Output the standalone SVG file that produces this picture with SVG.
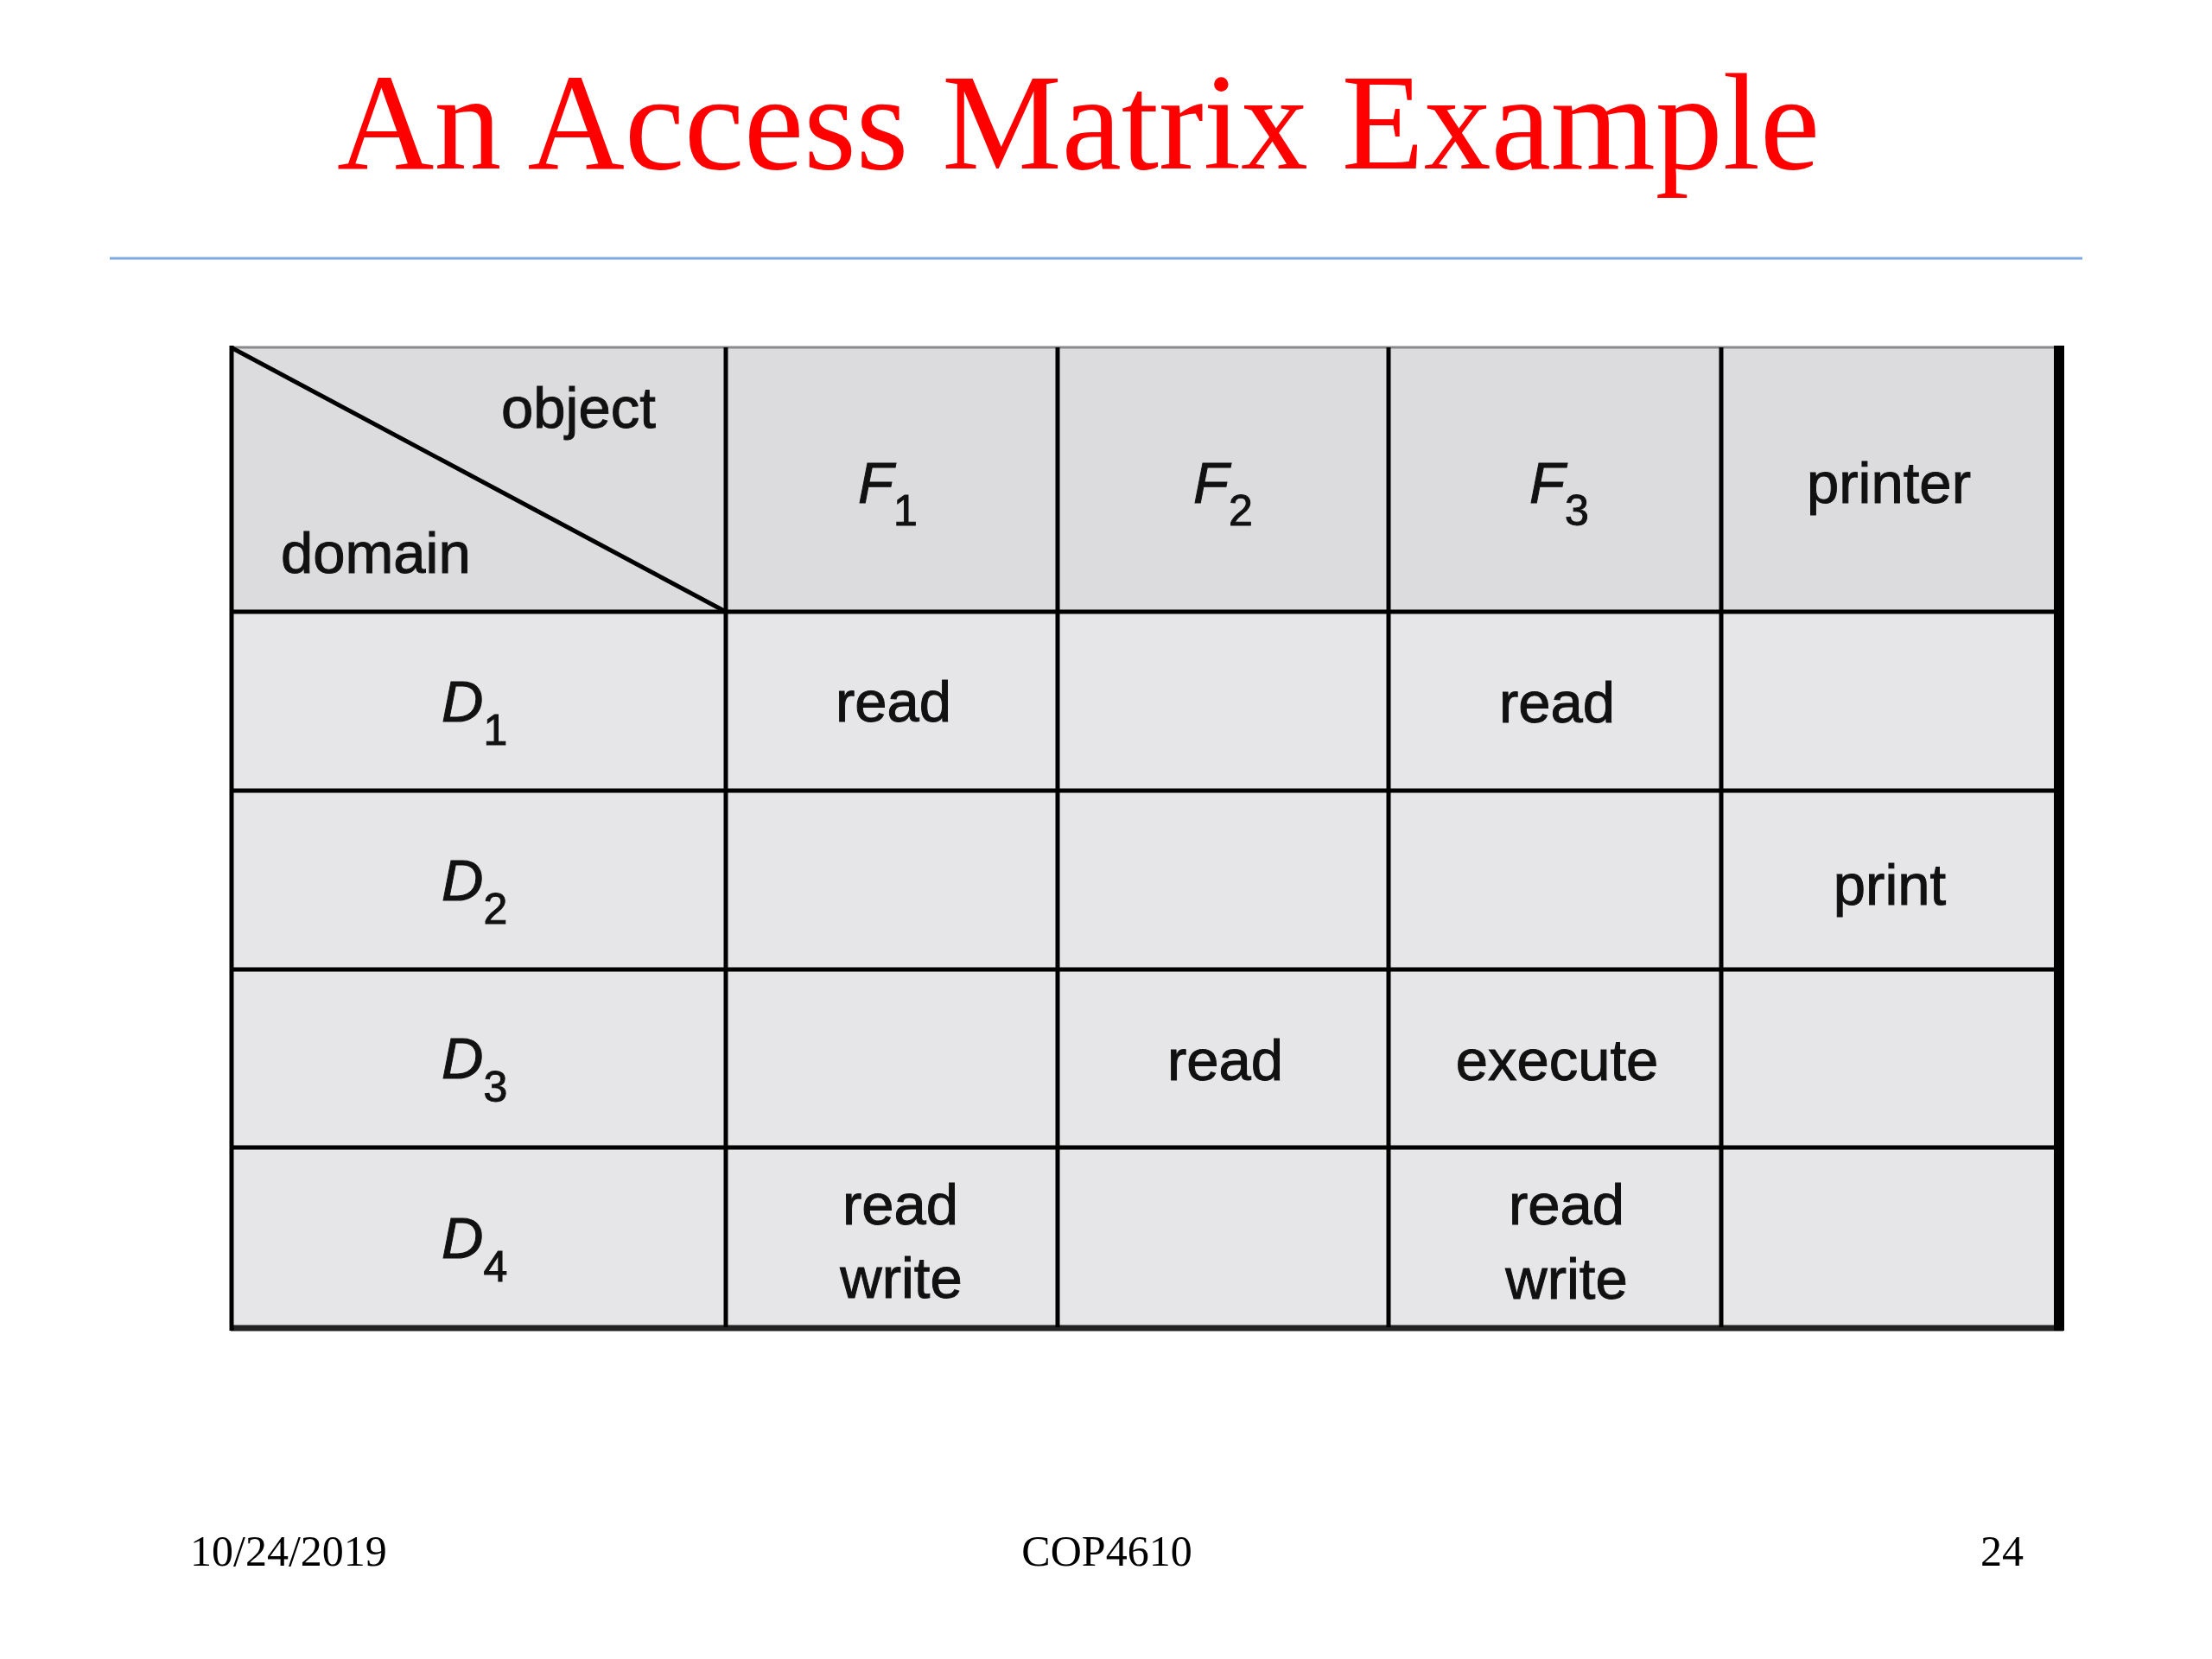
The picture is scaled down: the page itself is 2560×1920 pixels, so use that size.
<svg xmlns="http://www.w3.org/2000/svg" width="2560" height="1920" viewBox="0 0 2560 1920">
<style>
.title{font-family:"Liberation Serif","Times New Roman",serif;font-size:158px;fill:#ff0000}
.foot{font-family:"Liberation Serif","Times New Roman",serif;font-size:50px;fill:#000}
.lbl{font-family:"Liberation Sans",Arial,sans-serif;font-size:67px;fill:#111;stroke:#111;stroke-width:1}
.it{font-family:"Liberation Sans",Arial,sans-serif;font-size:67px;font-style:italic;fill:#111;stroke:#111;stroke-width:1}
.sub{font-size:50px;font-style:normal}
.c{text-anchor:middle}
.grid{stroke:#000;stroke-width:5;fill:none}
</style>
<rect x="0" y="0" width="2560" height="1920" fill="#ffffff"/>
<g id="title">
<text class="title" x="390" y="195" textLength="1716" lengthAdjust="spacingAndGlyphs">An Access Matrix Example</text>
<line x1="127" y1="299" x2="2410" y2="299" stroke="#7ea7e6" stroke-width="3"/>
</g>
<g id="table-bg">
<rect x="267" y="402" width="2113" height="306" fill="#dcdbde"/>
<rect x="267" y="708" width="2113" height="828" fill="#e6e5e7"/>
</g>
<g id="connectors">
<line x1="267" y1="402" x2="2380" y2="402" stroke="#8a8a8a" stroke-width="3"/>
<line class="grid" x1="267" y1="708" x2="2380" y2="708"/>
<line class="grid" x1="267" y1="915" x2="2380" y2="915"/>
<line class="grid" x1="267" y1="1122" x2="2380" y2="1122"/>
<line class="grid" x1="267" y1="1328" x2="2380" y2="1328"/>
<line x1="267" y1="1537" x2="2388" y2="1537" stroke="#222" stroke-width="7"/>
<line class="grid" x1="268" y1="400" x2="268" y2="1540"/>
<line class="grid" x1="840" y1="402" x2="840" y2="1536"/>
<line class="grid" x1="1224" y1="402" x2="1224" y2="1536"/>
<line class="grid" x1="1607" y1="402" x2="1607" y2="1536"/>
<line class="grid" x1="1992" y1="402" x2="1992" y2="1536"/>
<line x1="2383" y1="400" x2="2383" y2="1540" stroke="#000" stroke-width="12"/>
<line class="grid" x1="269" y1="403" x2="840" y2="708"/>
</g>
<g id="corner">
<text class="lbl" x="580" y="495">object</text>
<text class="lbl" x="325" y="663">domain</text>
</g>
<g id="col-F1"><text class="it" x="993" y="582">F<tspan class="sub" dy="26">1</tspan></text></g>
<g id="col-F2"><text class="it" x="1381" y="582">F<tspan class="sub" dy="26">2</tspan></text></g>
<g id="col-F3"><text class="it" x="1770" y="582">F<tspan class="sub" dy="26">3</tspan></text></g>
<g id="col-printer"><text class="lbl c" x="2186" y="582">printer</text></g>
<g id="row-D1"><text class="it" x="511" y="835">D<tspan class="sub" dy="27">1</tspan></text></g>
<g id="row-D2"><text class="it" x="511" y="1042">D<tspan class="sub" dy="27">2</tspan></text></g>
<g id="row-D3"><text class="it" x="511" y="1248">D<tspan class="sub" dy="27">3</tspan></text></g>
<g id="row-D4"><text class="it" x="511" y="1456">D<tspan class="sub" dy="27">4</tspan></text></g>
<g id="cell-D1-F1"><text class="lbl c" x="1034" y="835">read</text></g>
<g id="cell-D1-F3"><text class="lbl c" x="1802" y="836">read</text></g>
<g id="cell-D2-printer"><text class="lbl c" x="2187" y="1047">print</text></g>
<g id="cell-D3-F2"><text class="lbl c" x="1418" y="1250">read</text></g>
<g id="cell-D3-F3"><text class="lbl c" x="1802" y="1250">execute</text></g>
<g id="cell-D4-F1"><text class="lbl c" x="1042" y="1417">read</text><text class="lbl c" x="1043" y="1502">write</text></g>
<g id="cell-D4-F3"><text class="lbl c" x="1813" y="1417">read</text><text class="lbl c" x="1813" y="1503">write</text></g>
<g id="footer">
<text class="foot" x="220" y="1812">10/24/2019</text>
<text class="foot c" x="1281" y="1812">COP4610</text>
<text class="foot" x="2292" y="1812">24</text>
</g>
</svg>
